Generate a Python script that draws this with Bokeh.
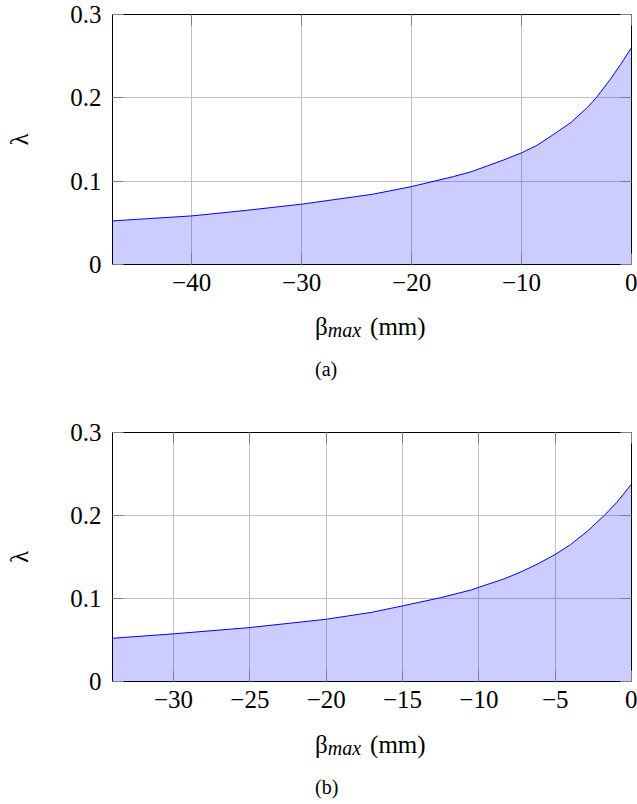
from bokeh.plotting import figure
from bokeh.models import Range1d, FixedTicker, LinearAxis, Div
from bokeh.layouts import column
from bokeh.embed import file_html
from bokeh.resources import INLINE

# ---------------- data ----------------
top_beta = [-47.2, -44, -40, -35, -30, -25, -23.5, -20, -16.2, -14.6, -13.1,
            -11.6, -10, -8.6, -7.1, -5.5, -4.0, -3.2, -1.9, -1.0, 0]
top_lambda = [0.0523, 0.0550, 0.0583, 0.0650, 0.0724, 0.0816, 0.0844, 0.0935,
              0.1055, 0.1112, 0.1184, 0.1256, 0.1340, 0.1429, 0.1560, 0.1705,
              0.1886, 0.2002, 0.2227, 0.2399, 0.2603]

bot_beta = [-34, -30, -25, -20, -17, -15, -12.5, -10.5, -10, -8.35, -7.25,
            -6.15, -5, -4, -2.9, -1.8, -0.95, 0]
bot_lambda = [0.0521, 0.0574, 0.0650, 0.0750, 0.0834, 0.0911, 0.1010, 0.1103,
              0.1135, 0.1236, 0.1320, 0.1416, 0.1530, 0.1649, 0.1809, 0.1998,
              0.2160, 0.2379]

top_xmin = -47.2
bot_xmin = -34

top_xticks = [-40, -30, -20, -10, 0]
top_xlabels = ["\u221240", "\u221230", "\u221220", "\u221210", "0"]
bot_xticks = [-30, -25, -20, -15, -10, -5, 0]
bot_xlabels = ["\u221230", "\u221225", "\u221220", "\u221215", "\u221210", "\u22125", "0"]
y_ticks = [0, 0.1, 0.2, 0.3]
y_labels = ["0", "0.1", "0.2", "0.3"]

captions = ["(a)", "(b)"]
x_title_main = "\u03b2"
x_title_sub = "max"
x_title_unit = "(mm)"
y_title = "\u03bb"

FONT = "'Liberation Serif', 'Times New Roman', Tinos, 'DejaVu Serif', serif"
GRID = "#c0c0c0"
TICK = "#7f7f7f"
W = 637


def style_axis(ax, show_labels=True):
    ax.major_tick_in = 11
    ax.major_tick_out = 0
    ax.minor_tick_in = 0
    ax.minor_tick_out = 0
    ax.major_tick_line_color = TICK
    ax.major_tick_line_width = 1
    ax.axis_line_color = None
    if show_labels:
        ax.major_label_text_font = FONT
        ax.major_label_text_font_size = "25px"
        ax.major_label_text_color = "black"
    else:
        ax.major_label_text_font_size = "0px"
        ax.major_label_standoff = 0


def make_panel(xs, ys, xmin, xticks, xlabels, height, btop, bbottom):
    p = figure(width=W, height=height,
               x_range=Range1d(xmin, 0), y_range=Range1d(0, 0.3),
               output_backend="svg", toolbar_location=None,
               min_border_left=112, min_border_right=6,
               min_border_top=btop, min_border_bottom=bbottom)
    p.background_fill_color = "white"
    p.border_fill_color = "white"
    p.outline_line_color = "black"
    p.outline_line_width = 1

    p.varea(x=xs, y1=0, y2=ys, fill_color="blue", fill_alpha=0.2)
    p.line(xs, ys, line_color="blue", line_width=1)

    p.xaxis.ticker = FixedTicker(ticks=xticks)
    p.xaxis.major_label_overrides = dict(zip(xticks, xlabels))
    p.xaxis.major_label_standoff = 9
    p.yaxis.ticker = FixedTicker(ticks=y_ticks)
    p.yaxis.major_label_overrides = dict(zip(y_ticks, y_labels))
    p.yaxis.major_label_standoff = 11
    for ax in p.xaxis + p.yaxis:
        style_axis(ax)

    p.yaxis.axis_label = y_title
    p.yaxis.axis_label_text_font = FONT
    p.yaxis.axis_label_text_font_size = "25px"
    p.yaxis.axis_label_text_font_style = "normal"
    p.yaxis.axis_label_text_color = "black"
    p.yaxis.axis_label_standoff = 34

    top_ax = LinearAxis(ticker=FixedTicker(ticks=xticks))
    style_axis(top_ax, show_labels=False)
    top_ax.major_label_overrides = {t: "" for t in xticks}
    p.add_layout(top_ax, "above")
    right_ax = LinearAxis(ticker=FixedTicker(ticks=y_ticks))
    style_axis(right_ax, show_labels=False)
    right_ax.major_label_overrides = {t: "" for t in y_ticks}
    p.add_layout(right_ax, "right")

    p.xgrid.grid_line_color = GRID
    p.ygrid.grid_line_color = GRID
    p.xgrid.ticker = FixedTicker(ticks=xticks)
    p.ygrid.ticker = FixedTicker(ticks=y_ticks)
    return p


def make_caption_div(caption, height, top_label, top_caption):
    html = (
        f'<div style="position:relative;width:{W}px;height:{height}px;'
        f'font-family:{FONT};color:#000;">'
        f'<span style="position:absolute;left:315px;top:{top_label}px;'
        f'font-size:25px;line-height:1;white-space:nowrap;">'
        f'{x_title_main}<i style="font-size:20px;position:relative;top:2px;">'
        f'{x_title_sub}</i><span style="margin-left:9px;">{x_title_unit}</span></span>'
        f'<span style="position:absolute;left:315px;top:{top_caption}px;'
        f'font-size:20px;line-height:1;white-space:nowrap;">{caption}</span>'
        f'</div>'
    )
    return Div(text=html, width=W, height=height, margin=0)


p1 = make_panel(top_beta, top_lambda, top_xmin, top_xticks, top_xlabels, 304, 14, 40)
d1 = make_caption_div(captions[0], 96, 10, 55)
p2 = make_panel(bot_beta, bot_lambda, bot_xmin, bot_xticks, bot_xlabels, 321, 32, 40)
d2 = make_caption_div(captions[1], 83, 11, 56)

layout = column(p1, d1, p2, d2, spacing=0)
open("out.html", "w").write(file_html(layout, INLINE))
